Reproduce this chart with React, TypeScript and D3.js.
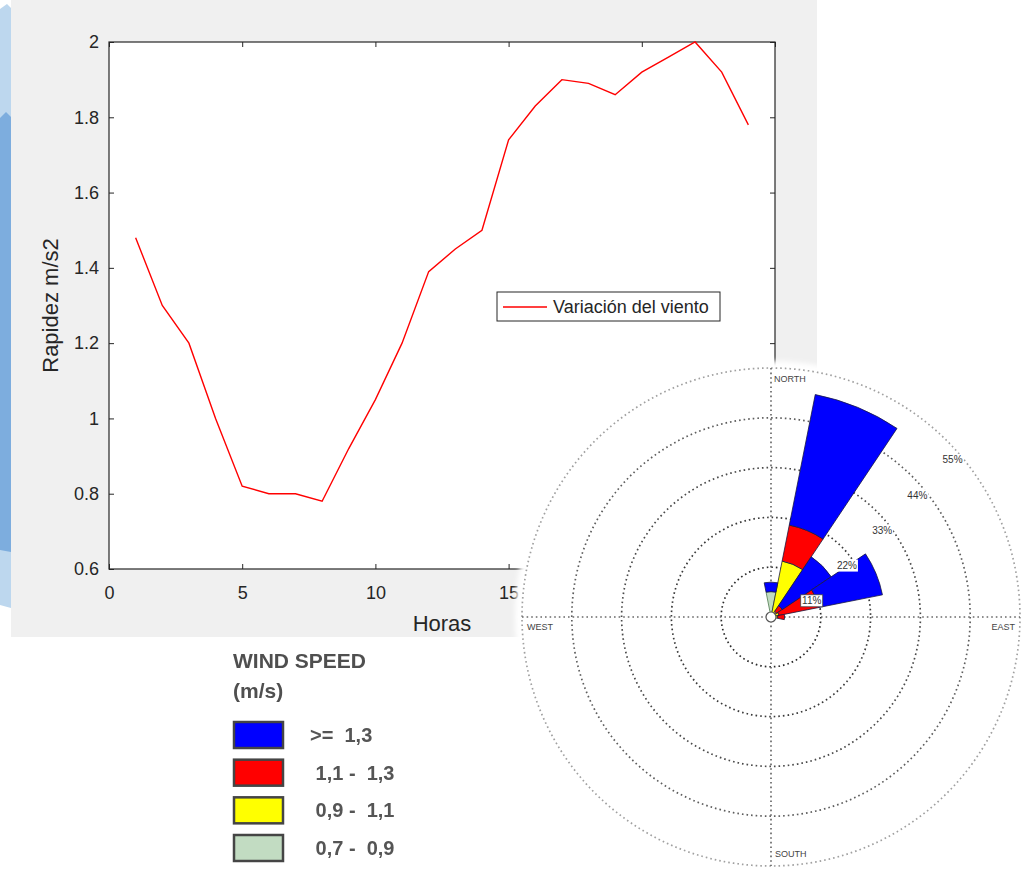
import React, { useEffect, useRef } from 'react'
import * as d3 from 'd3'

// hourly wind speed (m/s)
const hours = [1, 2, 3, 4, 5, 6, 7, 8, 9, 10, 11, 12, 13, 14, 15, 16, 17, 18, 19, 20, 21, 22, 23, 24]
const windSpeed = [1.48, 1.30, 1.20, 1.00, 0.82, 0.80, 0.80, 0.78, 0.92, 1.05, 1.20, 1.39, 1.45, 1.50, 1.74, 1.83, 1.90, 1.89, 1.86, 1.92, 1.96, 2.00, 1.92, 1.78]
const xTicks = [0, 5, 10, 15, 20, 25]
const yTicks = [0.6, 0.8, 1, 1.2, 1.4, 1.6, 1.8, 2]

// wind rose (% of time per direction, by speed class)
const compass = ['N', 'NNE', 'NE', 'ENE', 'E', 'ESE', 'SE', 'SSE', 'S', 'SSW', 'SW', 'WSW', 'W', 'WNW', 'NW', 'NNW']
const roseDirs = ['N', 'NNE', 'NE', 'ENE', 'E']
const pct07to09 = [5.6, 0.6, 0.3, 0.3, 0.3]
const pct09to11 = [0, 12.0, 1.2, 1.5, 1.2]
const pct11to13 = [0, 8.1, 1.5, 9.0, 1.5]
const pctOver13 = [2.1, 29.4, 13.0, 14.3, 0]
const ringTicks = [11, 22, 33, 44, 55]

// legend (top to bottom)
const speedLabels = ['>=  1,3', ' 1,1 -  1,3', ' 0,9 -  1,1', ' 0,7 -  0,9']
const speedColors = ['#0000ff', '#ff0000', '#ffff00', '#c2dcc2']

const App = () => {
    const svgRef = useRef<SVGSVGElement>(null)

    useEffect(() => {
        const svg = d3.select(svgRef.current)
        svg.selectAll('*').remove()
        svg.attr('font-family', '"Liberation Sans", Arial, Helvetica, sans-serif')

        // slide decoration at the left edge
        svg.append('polygon').attr('points', '0,9 7,4 11,8 11,608 0,605').attr('fill', '#bdd7ee')
        svg.append('polygon').attr('points', '0,118 6,112 11,117 11,552 0,550').attr('fill', '#7dadde')

        // figure background
        svg.append('rect').attr('x', 11).attr('y', 0).attr('width', 806).attr('height', 637).attr('fill', '#f0f0f0')

        const plot = { left: 109, top: 42, right: 775, bottom: 569 }
        const x = d3.scaleLinear().domain([0, 25]).range([plot.left, plot.right])
        const y = d3.scaleLinear().domain([0.6, 2]).range([plot.bottom, plot.top])
        const axisColor = '#262626'

        svg.append('rect')
            .attr('x', plot.left).attr('y', plot.top)
            .attr('width', plot.right - plot.left).attr('height', plot.bottom - plot.top)
            .attr('fill', '#fff')

        // axes, ticks pointing inward
        const styleAxis = (g) => {
            g.select('.domain').remove()
            g.selectAll('line').attr('stroke', axisColor)
            g.selectAll('text').attr('fill', axisColor).style('font-size', '18px')
        }
        svg.append('g').attr('transform', `translate(0,${plot.bottom})`)
            .call(d3.axisBottom(x).tickValues(xTicks).tickSizeInner(-5).tickSizeOuter(0).tickPadding(17))
            .call(styleAxis)
        svg.append('g').attr('transform', `translate(${plot.left},0)`)
            .call(d3.axisLeft(y).tickValues(yTicks).tickFormat(d3.format('~g')).tickSizeInner(-5).tickSizeOuter(0).tickPadding(10))
            .call(styleAxis)
        svg.append('g').attr('transform', `translate(0,${plot.top})`)
            .call(d3.axisTop(x).tickValues(xTicks).tickSizeInner(-5).tickSizeOuter(0).tickFormat(() => ''))
            .call(styleAxis)
        svg.append('g').attr('transform', `translate(${plot.right},0)`)
            .call(d3.axisRight(y).tickValues(yTicks).tickSizeInner(-5).tickSizeOuter(0).tickFormat(() => ''))
            .call(styleAxis)

        svg.append('rect')
            .attr('x', plot.left).attr('y', plot.top)
            .attr('width', plot.right - plot.left).attr('height', plot.bottom - plot.top)
            .attr('fill', 'none').attr('stroke', axisColor).attr('stroke-width', 1.2)

        // the line
        const line = d3.line<number>()
            .x((d, i) => x(hours[i]))
            .y(d => y(d))
        svg.append('path')
            .datum(windSpeed)
            .attr('fill', 'none')
            .attr('stroke', '#ff0000')
            .attr('stroke-width', 1.4)
            .attr('d', line)

        // axis labels
        svg.append('text')
            .attr('transform', `translate(58,${(plot.top + plot.bottom) / 2}) rotate(-90)`)
            .attr('text-anchor', 'middle')
            .attr('fill', axisColor)
            .style('font-size', '22px')
            .text('Rapidez m/s2')
        svg.append('text')
            .attr('x', (plot.left + plot.right) / 2)
            .attr('y', 631)
            .attr('text-anchor', 'middle')
            .attr('fill', axisColor)
            .style('font-size', '22px')
            .text('Horas')

        // legend
        svg.append('rect').attr('x', 497).attr('y', 292).attr('width', 223).attr('height', 29)
            .attr('fill', '#fff').attr('stroke', axisColor).attr('stroke-width', 1)
        svg.append('line').attr('x1', 503).attr('x2', 547).attr('y1', 307).attr('y2', 307)
            .attr('stroke', '#ff0000').attr('stroke-width', 1.4)
        svg.append('text').attr('x', 553).attr('y', 313).attr('fill', axisColor)
            .style('font-size', '18px').text('Variación del viento')

        // ---------- wind rose ----------
        const cx = 771
        const cy = 617
        const r = d3.scaleLinear().domain([0, 55]).range([0, 249])

        const defs = svg.append('defs')
        defs.append('filter').attr('id', 'soft').attr('x', '-10%').attr('y', '-10%').attr('width', '120%').attr('height', '120%')
            .append('feGaussianBlur').attr('stdDeviation', 2.5)
        defs.append('filter').attr('id', 'fuzz')
            .append('feGaussianBlur').attr('stdDeviation', 0.5)
        svg.append('circle').attr('cx', cx).attr('cy', cy).attr('r', 256)
            .attr('fill', '#fff').attr('filter', 'url(#soft)')

        const rose = svg.append('g').attr('transform', `translate(${cx},${cy})`)
        const ringColors = ['#2a2a2a', '#3a3a3a', '#4a4a4a', '#5e5e5e', '#a0a0a0']

        rose.selectAll('.ring')
            .data(ringTicks)
            .enter()
            .append('circle')
            .attr('r', d => r(d))
            .attr('fill', 'none')
            .attr('stroke', (d, i) => ringColors[i])
            .attr('stroke-width', 1.7)
            .attr('stroke-dasharray', '1.6 3')

        const rMax = r(55)
        rose.append('line').attr('x1', 0).attr('x2', 0).attr('y1', -rMax).attr('y2', rMax)
            .attr('stroke', '#6a6a6a').attr('stroke-width', 1.7).attr('stroke-dasharray', '1.6 3')
        rose.append('line').attr('x1', -rMax).attr('x2', rMax).attr('y1', 0).attr('y2', 0)
            .attr('stroke', '#6a6a6a').attr('stroke-width', 1.7).attr('stroke-dasharray', '1.6 3')

        // petals, stacked from the slowest class outward
        const rows = roseDirs.map((d, i) => ({
            dir: d, c0: pct07to09[i], c1: pct09to11[i], c2: pct11to13[i], c3: pctOver13[i]
        }))
        const keys = ['c0', 'c1', 'c2', 'c3']
        const fills = { c0: speedColors[3], c1: speedColors[2], c2: speedColors[1], c3: speedColors[0] }
        const stacked = d3.stack().keys(keys)(rows)
        const angle = d3.scaleLinear().domain([0, compass.length]).range([0, 2 * Math.PI])
        const half = Math.PI / compass.length
        const arc = d3.arc()

        stacked.forEach(series => {
            rose.selectAll(`.p-${series.key}`)
                .data(series.filter(s => s[1] > s[0]))
                .enter()
                .append('path')
                .attr('d', s => {
                    const a = angle(compass.indexOf(s.data.dir))
                    return arc({ innerRadius: r(s[0]), outerRadius: r(s[1]), startAngle: a - half, endAngle: a + half })
                })
                .attr('fill', fills[series.key])
                .attr('stroke', series.key === 'c0' ? '#4f7a4f' : '#1a1a40')
                .attr('stroke-width', 0.8)
        })

        rose.append('circle').attr('r', 5).attr('fill', '#fff').attr('stroke', '#555').attr('stroke-width', 1.2)

        // ring labels
        const diag = Math.SQRT1_2
        ringTicks.forEach((t, i) => {
            const lx = r(t) * diag + 5.5
            const ly = -r(t) * diag + 19
            rose.append('rect')
                .attr('x', lx - 11).attr('y', ly - 6).attr('width', 22).attr('height', 12)
                .attr('fill', '#fff')
                .attr('stroke', i === 0 ? '#444' : 'none').attr('stroke-width', 0.8)
            rose.append('text')
                .attr('x', lx).attr('y', ly + 3.5)
                .attr('text-anchor', 'middle')
                .attr('fill', '#333')
                .style('font-size', '10px')
                .text(`${t}%`)
        })

        // compass labels
        const dirStyle = (t) => t.attr('fill', '#444').style('font-size', '9px')
        rose.append('text').attr('x', 3).attr('y', -rMax + 14).text('NORTH').call(dirStyle)
        rose.append('text').attr('x', 4).attr('y', rMax - 9).text('SOUTH').call(dirStyle)
        rose.append('text').attr('x', -rMax + 5).attr('y', 13).text('WEST').call(dirStyle)
        rose.append('text').attr('x', rMax - 5).attr('y', 13).attr('text-anchor', 'end').text('EAST').call(dirStyle)

        // ---------- wind speed legend ----------
        const lg = svg.append('g').attr('filter', 'url(#fuzz)')
        lg.append('text').attr('x', 233).attr('y', 668).attr('fill', '#505050')
            .style('font-size', '21px').style('font-weight', 'bold').text('WIND SPEED')
        lg.append('text').attr('x', 233).attr('y', 698).attr('fill', '#505050')
            .style('font-size', '21px').style('font-weight', 'bold').text('(m/s)')

        const rowY = d3.scalePoint().domain(speedLabels).range([735, 848])
        speedLabels.forEach((lab, i) => {
            lg.append('rect')
                .attr('x', 234).attr('y', rowY(lab) - 13)
                .attr('width', 49).attr('height', 26)
                .attr('fill', speedColors[i])
                .attr('stroke', '#444').attr('stroke-width', 2.5)
            lg.append('text')
                .attr('x', 310).attr('y', rowY(lab) + 7)
                .attr('fill', '#555')
                .style('font-size', '20px')
                .style('font-weight', 'bold')
                .style('white-space', 'pre')
                .text(lab)
        })
    }, [])

    return (
        <svg
            ref={svgRef}
            width={1024}
            height={879}
            style={{ position: 'absolute', left: 0, top: 0, background: '#fff' }}
        />
    )
}

export default App
